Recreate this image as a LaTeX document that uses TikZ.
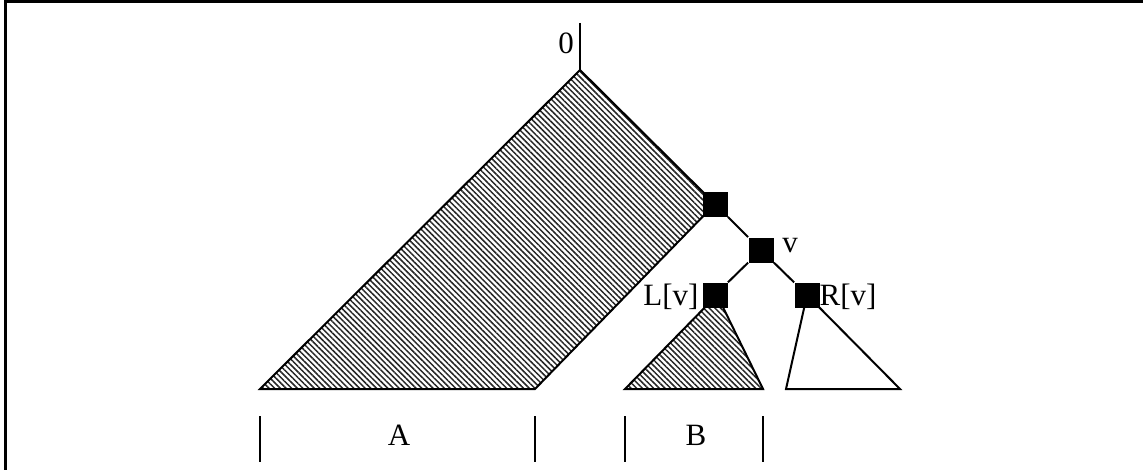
\documentclass[tikz,border=0pt]{standalone}
\usepackage{fontspec}
\setmainfont{Liberation Serif}
\usetikzlibrary{patterns.meta}
\begin{document}
\begin{tikzpicture}[x=0.5pt,y=-0.5pt,
  edge/.style={line width=1pt},
  sq/.style={rectangle,fill=black,draw=none,minimum size=12.5pt,inner sep=0pt},
  lbl/.style={inner sep=0pt,font=\fontsize{15.5}{18}\selectfont},
  hatch/.style={pattern={Lines[angle=-45,distance=2pt,line width=0.75pt]},pattern color=black!85},
  tick/.style={line width=1pt}]
\useasboundingbox (0,0) rectangle (1143,470);
% frame
\draw[line width=1.4pt] (5.3,470) -- (5.3,1.5) -- (1143,1.5);
% coordinates
\coordinate (top) at (580,70);
\coordinate (rootend) at (580,23);
\coordinate (n1c) at (715,204);
\coordinate (Abr) at (535,389);
\coordinate (Abl) at (260,389);
\coordinate (Bapex) at (717,295);
\coordinate (Bl) at (625,389);
\coordinate (Br) at (763,389);
\coordinate (Rapex) at (807,295);
\coordinate (Rl) at (786,389);
\coordinate (Rr) at (900,389);
% regions
\fill[hatch] (top) -- (n1c) -- (Abr) -- (Abl) -- cycle;
\draw[edge,line join=miter] (n1c) -- (top) -- (Abl) -- (Abr) -- (n1c);
\fill[hatch] (Bapex) -- (Br) -- (Bl) -- cycle;
\draw[edge] (Bapex) -- (Br) -- (Bl) -- cycle;
\draw[edge] (Rapex) -- (Rr) -- (Rl) -- cycle;
\draw[edge] (rootend) -- (top);
% nodes
\node[sq] (n1) at (n1c) {};
\node[sq] (v) at (761,250) {};
\node[sq] (L) at (715,295) {};
\node[sq] (R) at (807,295) {};
\draw[edge] (n1) -- (v);
\draw[edge] (v) -- (L);
\draw[edge] (v) -- (R);
% labels
\node[lbl] (l0) at (566,43) {0};
\node[lbl] (lv) at (790,246) {v};
\node[lbl] (lL) at (671,297) {L[v]};
\node[lbl] (lR) at (848,297) {R[v]};
% ticks
\coordinate (t1a) at (260,416); \coordinate (t1b) at (260,462);
\coordinate (t2a) at (535,416); \coordinate (t2b) at (535,462);
\coordinate (t3a) at (625,416); \coordinate (t3b) at (625,462);
\coordinate (t4a) at (763,416); \coordinate (t4b) at (763,462);
\draw[tick] (t1a) -- (t1b);
\draw[tick] (t2a) -- (t2b);
\draw[tick] (t3a) -- (t3b);
\draw[tick] (t4a) -- (t4b);
\node[lbl] (lA) at (399,435) {A};
\node[lbl] (lB) at (696,435) {B};
\end{tikzpicture}
\end{document}
